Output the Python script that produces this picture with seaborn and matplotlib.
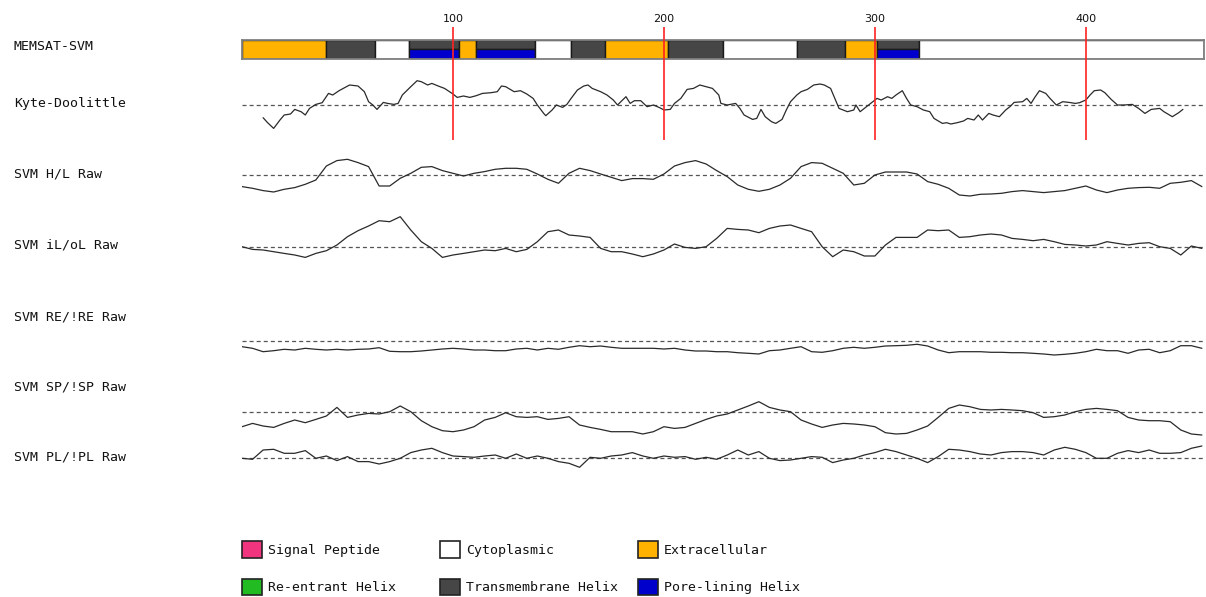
import numpy as np
import pandas as pd
import matplotlib
matplotlib.use("Agg")
import matplotlib.pyplot as plt
from matplotlib.patches import Patch
import seaborn as sns

# ---------------- data ----------------
seq_len = 456
ruler_ticks = [100, 200, 300, 400]

# MEMSAT-SVM topology: segment boundaries (residues) and state of each segment
topo_bounds = [0, 40, 63, 79, 103, 111, 139, 156, 172, 202, 228, 263, 286, 301, 321, 456]
topo_states = ["out", "tm", "in", "pl", "out", "pl", "in", "tm", "out", "tm", "in", "tm", "out", "pl", "in"]

# Kyte-Doolittle profile (window average), threshold at 0
kd_pos = [10, 12, 15, 18, 20, 23, 25, 28, 30, 32, 35, 38, 41, 43, 46, 48, 51, 55, 58, 60,
          62, 64, 67, 69, 72, 74, 76, 80, 83, 85, 88, 90, 93, 96, 100, 102, 105, 108, 111, 114,
          118, 121, 123, 125, 129, 132, 135, 138, 140, 143, 144, 147, 149, 152, 154, 156, 159, 162, 164, 166,
          170, 173, 176, 178, 182, 184, 186, 189, 192, 195, 198, 200, 203, 205, 208, 211, 214, 217, 220, 223,
          226, 227, 230, 234, 236, 238, 242, 244, 246, 248, 251, 253, 256, 258, 260, 263, 265, 268, 271, 274,
          276, 279, 281, 283, 287, 290, 291, 293, 295, 298, 301, 303, 306, 308, 310, 313, 315, 317, 320, 323,
          326, 328, 332, 334, 336, 339, 342, 344, 347, 349, 351, 354, 356, 359, 362, 364, 366, 370, 372, 374,
          376, 378, 381, 383, 386, 389, 392, 395, 397, 400, 402, 404, 407, 409, 412, 415, 418, 422, 425, 428,
          431, 435, 437, 441, 444, 446]
kd_val = [-13, -17.7, -23.7, -15.3, -10.3, -9.3, -4.7, -7, -10.3, -3.7, 0.3, 2, 11.3, 9.7, 14, 16.3, 19.7, 18.7, 13, 3,
          -0.3, -4.7, 2.3, 1.3, 0.3, 1.3, 9.7, 18, 24, 23, 19.7, 21.3, 18.7, 16.3, 10.7, 7.3, 8.7, 7.3, 9, 11.3,
          12, 13, 18.7, 18, 13, 14, 10.7, 6.3, -0.3, -8.7, -11, -5.3, -0.3, -2.7, 0.3, 6.3, 14.7, 18.7, 19.7, 16.3,
          13, 9.7, 4.7, -0.3, 8, 1.3, 4, 4, -2, -0.3, -3, -5.3, -4.7, 1.3, 6.3, 15.3, 16.3, 19.7, 18, 16.3,
          9.7, 1.3, -0.3, 1.3, -3.7, -10.3, -14.7, -13.7, -4.7, -12, -17, -18.7, -14.7, -5.3, 3, 9.7, 13, 15.3, 19.7, 20.7,
          19.7, 16.3, 6.3, -3.7, -7, -5.3, -0.3, -7, -3.7, 1.3, 6.3, 4.7, 8, 6.3, 9.7, 14, 6.3, -0.3, -2, -5.3,
          -7, -13.7, -18.7, -18, -19.3, -18, -16.3, -13.7, -15.3, -10.3, -15.3, -8.7, -10.3, -12, -5.3, -2, 2.3, 3, 6.3, 1.3,
          8, 14, 11.3, 6.3, -0.3, 3, 2.3, 1.3, 2, 4.7, 9.7, 14, 14.7, 12, 5.3, -0.3, -0.3, 0.3, -3.7, -8.7,
          -4.7, -3.7, -7, -12, -8, -4.7]

# SVM raw scores, sampled every 5 residues (0..455), threshold at 0
svm_pos = list(range(0, 456, 5))
hl_val = [-11.3, -13, -15.3, -16.7, -14, -12.3, -9, -4.7, 9.3, 14.7,
          16, 12.7, 8.7, -10.7, -10.7, -3, 2, 8, 8.7, 4.7,
          2, -0.7, 2, 3.7, 6, 7, 7, 6, 1.3, -4,
          -8, 2, 7, 4.7, 1.3, -2, -5.3, -3.3, -3.3, -4,
          1.3, 9.3, 12.7, 14.7, 11.3, 4.7,
          -1.3, -9.7, -14, -16, -14, -9.7, -3, 8.7, 12.7, 12,
          7, 2, -9.7, -8, 0.3, 3.3, 3.3, 3.3, 1.3, -6.3,
          -9, -13, -19.7, -20.7, -19, -18.7, -18, -16.3, -15.3, -16.3,
          -17.3, -16.3, -15.3, -13, -10.7, -14.7, -17.3, -14.7, -13, -12.3,
          -12, -13, -8, -7, -5.3, -11.3]
il_val = [0, -2.7, -3.3, -5, -6.7, -8.3, -10.7, -6.7, -4, 1.7,
          10, 16, 20.7, 26, 25, 30, 16.7, 5, -1.7, -10.7,
          -8.3, -6.7, -5, -3.3, -4, -1.7, -5, -2.7, 5, 15,
          16.7, 11.7, 10.7, 9.3, -1.7, -5, -5, -7.3, -10, -7.3,
          -3.3, 2.7, -0.7, -1.7, 0, 8.3,
          18.3, 17.3, 16.7, 14, 18.3, 20.7, 21.7, 18.3, 15, 0,
          -10, -3.3, -5, -9.3, -9.3, 1.7, 9.3, 9.3, 9.3, 16.7,
          16, 16.7, 9.3, 10, 11.7, 12.7, 11.7, 8.3, 7.3, 6,
          7.3, 5, 2.3, 1.7, 0.7, 1.7, 5, 3.3, 1.7, 3.3,
          4, 0, -1.7, -8.3, 0.7, -1.7]
re_val = [-5.7, -7.3, -10.7, -9.7, -8.3, -9, -7.3, -8.3, -9, -8.3,
          -9, -8.3, -8, -6.7, -10.3, -10.7, -10.7, -10, -9, -8,
          -7.3, -8, -9, -9, -9.7, -9.7, -8, -7.3, -9, -7.3,
          -8.3, -6.3, -4.7, -5.7, -5, -6.3, -7.3, -7.3, -7.3, -7.3,
          -8, -7.3, -9, -10, -10, -10.7,
          -10.7, -11.7, -12.3, -13, -9.7, -9, -7.3, -5.7, -10.7, -11.3,
          -9.7, -7.3, -6.3, -7.3, -6.3, -5, -4.7, -4.3, -3.3, -5,
          -9, -11.7, -10.7, -10.7, -10.7, -11.3, -11.3, -11.7, -11.7, -12.3,
          -13, -14, -13.3, -12.3, -10.7, -8.3, -9.7, -9.7, -12.3, -9,
          -8.3, -11.7, -9.7, -4.7, -4.7, -7.3]
sp_val = [-15, -11.7, -14.3, -15.7, -11.7, -8.3, -11, -7.7, -4.3, 4.3,
          -5.7, -3.3, -1.7, -2.3, 0, 5.7, 0, -9, -15, -19,
          -20, -18.3, -15, -8.3, -5.7, -1, -5, -5.7, -5, -7.7,
          -6.7, -5, -13.3, -15.7, -17.7, -20, -20, -20, -22.3, -20,
          -15, -16.7, -15.7, -11.7, -7.7, -4.3,
          -2.3, 1.7, 5.7, 10, 4.3, 1.7, 0, -8.3, -12.3, -15.7,
          -13.3, -11.7, -12.3, -13.3, -15, -21, -22.3, -21.7, -18.3, -14.3,
          -5.7, 3.3, 6.7, 5, 2.3, 1.7, 2.3, 1.7, 1, -1,
          -5.7, -5, -3.3, 0, 2.3, 3.3, 2.3, 1, -5.7, -8.3,
          -9, -9, -10, -18.3, -22.3, -23.3]
pl_val = [0, -1, 8.3, 9, 5, 5, 7.7, 0, 2.3, -2.3,
          1.7, -3.3, -3.3, -5.7, -3.3, 0, 5.7, 8.3, 10, 5.7,
          2.3, 1.7, 1, 2.3, 3.3, 0, 4.3, 0, 2.3, 0,
          -3.3, -5, -9, 1, 0, 2.3, 3.3, 5.7, 2.3, 0,
          2.3, 1, 1.7, -1, 1, -1,
          3.3, 8.3, 3.3, 6.7, 0, -2.3, -1.7, 0, 1.7, 1,
          -4.3, -1.7, 0, 3.3, 5.7, 9, 6.7, 3.3, 0, -4.3,
          1.7, 9, 8.3, 6.7, 4.3, 3.3, 5.7, 6.7, 6.7, 5.7,
          3.3, 8.3, 11, 9, 5.7, 0, 0, 5, 7.7, 5.7,
          8.3, 5, 5, 5.7, 10, 12.3]

legend_labels = [["Signal Peptide", "Re-entrant Helix"],
                 ["Cytoplasmic", "Transmembrane Helix"],
                 ["Extracellular", "Pore-lining Helix"]]

# ---------------- style ----------------
state_colors = {"sp": "#F0357E", "in": "#FFFFFF", "out": "#FFB300",
                "re": "#22BB22", "tm": "#464646", "pl": "#0000CC"}
legend_states = [["sp", "re"], ["in", "tm"], ["out", "pl"]]

sns.set_style("white")
plt.rcParams["font.family"] = ["DejaVu Sans Mono"]
plt.rcParams["lines.scale_dashes"] = False
MONO = 9.5
TXT = "#111111"

W, H = 1206, 597
fig = plt.figure(figsize=(W / 100, H / 100), dpi=100)
X0, X1 = 242, 1204


def px_axes(x0, y0, x1, y1):
    return fig.add_axes([x0 / W, 1 - y1 / H, (x1 - x0) / W, (y1 - y0) / H])


# ---- MEMSAT-SVM topology bar ----
topo = pd.DataFrame({"start": topo_bounds[:-1], "end": topo_bounds[1:], "state": topo_states})
topo["width"] = topo["end"] - topo["start"]
axb = px_axes(X0, 39.5, X1, 58.5)
for _, seg in topo.iterrows():
    if seg["state"] == "pl":
        axb.barh(0.74, seg["width"], left=seg["start"], height=0.52, color=state_colors["tm"],
                 edgecolor="#1a1a1a", linewidth=1)
        axb.barh(0.24, seg["width"], left=seg["start"], height=0.48, color=state_colors["pl"],
                 edgecolor="#1a1a1a", linewidth=1)
    else:
        axb.barh(0.5, seg["width"], left=seg["start"], height=1, color=state_colors[seg["state"]],
                 edgecolor="#1a1a1a", linewidth=1)
axb.set_xlim(0, seq_len)
axb.set_ylim(0, 1)
axb.set_xticks([])
axb.set_yticks([])
for sp in axb.spines.values():
    sp.set_color("#808080")
    sp.set_linewidth(1.3)

# ---- score tracks ----
tracks = [
    (kd_pos, kd_val, 104.7),
    (svm_pos, hl_val, 175.3),
    (svm_pos, il_val, 246.7),
    (svm_pos, re_val, 341.0),
    (svm_pos, sp_val, 411.7),
    (svm_pos, pl_val, 458.3),
]
half = 35
for pos, val, yc in tracks:
    ax = px_axes(X0, yc - half, X1, yc + half)
    ax.axhline(0, color="#555555", linewidth=0.9, linestyle=(0, (2.9, 2.2)))
    sns.lineplot(x=pos, y=val, ax=ax, color="#2a2a2a", linewidth=0.9)
    ax.set_xlim(0, seq_len)
    ax.set_ylim(-half, half)
    ax.axis("off")

# ---- ruler (red position markers) ----
axr = px_axes(X0, 27, X1, 140)
axr.patch.set_visible(False)
axr.vlines(ruler_ticks, 0, 1, transform=axr.get_xaxis_transform(), color="#FF2222", linewidth=1.2)
axr.set_xlim(0, seq_len)
axr.set_ylim(0, 1)
axr.set_xticks(ruler_ticks)
axr.set_xticklabels([str(t) for t in ruler_ticks], fontfamily="DejaVu Sans", fontsize=8, color=TXT)
axr.set_yticks([])
axr.tick_params(axis="x", top=True, bottom=False, labeltop=True, labelbottom=False, length=0, pad=2)
for sp in axr.spines.values():
    sp.set_visible(False)

# ---- row labels ----
row_labels = ["MEMSAT-SVM", "Kyte-Doolittle", "SVM H/L Raw", "SVM iL/oL Raw",
              "SVM RE/!RE Raw", "SVM SP/!SP Raw", "SVM PL/!PL Raw"]
row_label_y = [47, 104, 174, 245, 316.5, 386.5, 457]
for lab, y in zip(row_labels, row_label_y):
    fig.text(14 / W, 1 - y / H, lab, fontsize=MONO, color=TXT, va="center", ha="left")

# ---- legend, three fixed columns ----
col_x = [242, 440, 638]
for cx, labs, states in zip(col_x, legend_labels, legend_states):
    handles = [Patch(facecolor=state_colors[s], edgecolor="#222222", linewidth=1.2) for s in states]
    fig.legend(handles, labs, loc="upper left", bbox_to_anchor=(cx / W, 1 - 541 / H),
               frameon=False, borderpad=0, borderaxespad=0, handlelength=1.55, handleheight=1.55,
               handletextpad=0.4, labelspacing=1.6, prop={"family": "DejaVu Sans Mono", "size": MONO},
               labelcolor=TXT)

fig.savefig("out.png", dpi=100)
